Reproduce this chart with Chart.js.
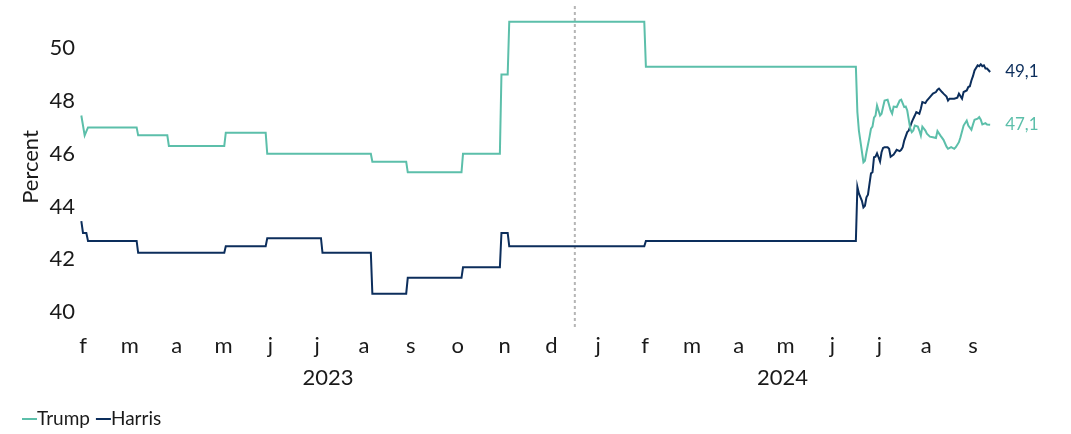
<!DOCTYPE html>
<html>
<head>
<meta charset="utf-8">
<script src="https://cdn.jsdelivr.net/npm/chart.js@4/dist/chart.umd.min.js"></script>
<style>
  body { margin: 0; background: #fff; }
  #wrap { width: 1071px; height: 434px; position: relative; }
</style>
</head>
<body>
<div id="wrap"><canvas id="chart"></canvas></div>
<script>
// Maanedsetiketter (feb 2023 - sep 2024)
const monthLabels = ['f', 'm', 'a', 'm', 'j', 'j', 'a', 's', 'o', 'n', 'd',
  'j', 'f', 'm', 'a', 'm', 'j', 'j', 'a', 's'];
const yearLabels = ['2023', '2024'];
const yTicks = [40, 42, 44, 46, 48, 50];

const trumpDates = [
  '2023-02-14', '2023-02-16', '2023-02-18', '2023-03-21', '2023-03-22', '2023-04-10', '2023-04-11',
  '2023-05-17', '2023-05-18', '2023-06-13', '2023-06-14', '2023-08-21', '2023-08-22', '2023-09-13',
  '2023-09-14', '2023-10-19', '2023-10-20', '2023-11-13', '2023-11-14', '2023-11-18', '2023-11-19',
  '2024-02-15', '2024-02-16', '2024-07-01',
  '2024-07-02', '2024-07-03', '2024-07-06', '2024-07-07', '2024-07-08', '2024-07-10', '2024-07-11',
  '2024-07-12', '2024-07-13', '2024-07-14', '2024-07-15', '2024-07-17', '2024-07-18', '2024-07-19',
  '2024-07-20', '2024-07-22', '2024-07-24', '2024-07-25', '2024-07-26', '2024-07-28', '2024-07-30',
  '2024-07-31', '2024-08-02', '2024-08-03', '2024-08-04', '2024-08-06', '2024-08-07', '2024-08-08',
  '2024-08-09', '2024-08-11', '2024-08-12', '2024-08-13', '2024-08-14', '2024-08-16', '2024-08-17',
  '2024-08-19', '2024-08-21', '2024-08-23', '2024-08-24', '2024-08-26', '2024-08-28', '2024-08-30',
  '2024-08-31', '2024-09-02', '2024-09-04', '2024-09-05', '2024-09-07', '2024-09-08', '2024-09-10',
  '2024-09-12', '2024-09-13', '2024-09-15', '2024-09-16', '2024-09-17', '2024-09-19', '2024-09-20',
  '2024-09-21', '2024-09-22', '2024-09-24', '2024-09-25', '2024-09-27'
];
const trumpValues = [
  47.45, 46.7, 47.0, 47.0, 46.7, 46.7, 46.3,
  46.3, 46.8, 46.8, 46.0, 46.0, 45.7, 45.7,
  45.3, 45.3, 46.0, 46.0, 49.0, 49.0, 51.0,
  51.0, 49.3, 49.3,
  47.58, 46.88, 45.68, 45.74, 46.06, 46.63, 46.95,
  47.03, 47.37, 47.45, 47.83, 47.45, 47.52, 47.77,
  48.02, 48.05, 47.64, 47.52, 47.79, 47.77, 48.02,
  48.05, 47.77, 47.79, 47.64, 46.95, 46.82, 46.88,
  47.07, 47.03, 46.88, 46.69, 47.03, 46.88, 46.76,
  46.65, 46.63, 46.60, 46.86, 46.69, 46.53, 46.27,
  46.19, 46.25, 46.19, 46.25, 46.44, 46.63, 47.07,
  47.26, 47.07, 46.91, 47.11, 47.29, 47.33, 47.39,
  47.29, 47.11, 47.16, 47.11, 47.1
];

const harrisDates = [
  '2023-02-14', '2023-02-15', '2023-02-17', '2023-02-18', '2023-03-21', '2023-03-22', '2023-05-17',
  '2023-05-18', '2023-06-13', '2023-06-14', '2023-07-19', '2023-07-20', '2023-08-21', '2023-08-22',
  '2023-09-13', '2023-09-14', '2023-10-19', '2023-10-20', '2023-11-13', '2023-11-14', '2023-11-18',
  '2023-11-19', '2024-02-15', '2024-02-16', '2024-07-01',
  '2024-07-02', '2024-07-03', '2024-07-05', '2024-07-06', '2024-07-07', '2024-07-08', '2024-07-09',
  '2024-07-11', '2024-07-12', '2024-07-13', '2024-07-14', '2024-07-15', '2024-07-16', '2024-07-17',
  '2024-07-18', '2024-07-19', '2024-07-20', '2024-07-22', '2024-07-23', '2024-07-24', '2024-07-26',
  '2024-07-27', '2024-07-28', '2024-07-30', '2024-07-31', '2024-08-01', '2024-08-02', '2024-08-04',
  '2024-08-05', '2024-08-07', '2024-08-08', '2024-08-09', '2024-08-10', '2024-08-12', '2024-08-13',
  '2024-08-14', '2024-08-16', '2024-08-17', '2024-08-19', '2024-08-21', '2024-08-23', '2024-08-24',
  '2024-08-25', '2024-08-27', '2024-08-28', '2024-08-30', '2024-08-31', '2024-09-01', '2024-09-02',
  '2024-09-04', '2024-09-06', '2024-09-07', '2024-09-09', '2024-09-10', '2024-09-12', '2024-09-13',
  '2024-09-14', '2024-09-15', '2024-09-16', '2024-09-17', '2024-09-19', '2024-09-20', '2024-09-21',
  '2024-09-22', '2024-09-23', '2024-09-24', '2024-09-25', '2024-09-27'
];
const harrisValues = [
  43.45, 43.0, 43.0, 42.7, 42.7, 42.25, 42.25,
  42.5, 42.5, 42.8, 42.8, 42.25, 42.25, 40.7,
  40.7, 41.3, 41.3, 41.7, 41.7, 43.0, 43.0,
  42.5, 42.5, 42.7, 42.7,
  44.75, 44.50, 44.22, 43.97, 44.03, 44.35, 44.45,
  45.26, 45.30, 45.87, 45.89, 46.02, 45.87, 45.71,
  46.06, 46.22, 46.25, 46.25, 46.19, 45.89, 45.97,
  46.06, 46.15, 46.10, 46.15, 46.25, 46.50, 46.82,
  46.88, 47.20, 47.33, 47.45, 47.58, 47.52, 47.71,
  47.96, 47.92, 48.02, 48.15, 48.28, 48.34, 48.43,
  48.47, 48.34, 48.28, 48.17, 48.02, 48.09, 48.09,
  48.09, 48.13, 48.28, 48.09, 48.34, 48.40, 48.53,
  48.56, 48.78, 48.94, 49.16, 49.35, 49.32, 49.39,
  49.32, 49.35, 49.23, 49.23, 49.1
];

const trumpColor = '#5cbfaa';
const harrisColor = '#0c2e5c';
const textColor = '#1a1a1a';
const fontFamily = 'Lato, "Open Sans", sans-serif';

// dato -> maaneder siden 1. jan 2023
function monthPos(s) {
  const [y, m, d] = s.split('-').map(Number);
  const days = new Date(y, m, 0).getDate();
  return (y - 2023) * 12 + (m - 1) + (d - 1) / days;
}

function toPoints(dates, values) {
  return dates.map((d, i) => ({ x: monthPos(d), y: values[i] }));
}

// stiplet linje ved aarsskiftet, aarstal under aksen, verdier ved linjeslutt og legende
const extras = {
  id: 'extras',
  beforeDatasetsDraw(chart) {
    const { ctx, chartArea, scales } = chart;
    const x = scales.x.getPixelForValue(12);
    ctx.save();
    ctx.strokeStyle = '#b5b5b5';
    ctx.lineWidth = 2;
    ctx.setLineDash([3, 3]);
    ctx.beginPath();
    ctx.moveTo(x, chartArea.top);
    ctx.lineTo(x, chartArea.bottom);
    ctx.stroke();
    ctx.restore();
  },
  afterDraw(chart) {
    const { ctx, scales } = chart;
    ctx.save();
    ctx.textBaseline = 'middle';

    // aarstall midt under den delen av aaret som har data
    const first = monthPos(trumpDates[0]);
    const last = monthPos(trumpDates[trumpDates.length - 1]);
    ctx.font = '22px ' + fontFamily;
    ctx.fillStyle = textColor;
    ctx.textAlign = 'center';
    yearLabels.forEach(yr => {
      const start = (Number(yr) - 2023) * 12;
      const lo = Math.max(first, start), hi = Math.min(last, start + 12);
      ctx.fillText(yr, scales.x.getPixelForValue((lo + hi) / 2), 378);
    });

    // siste verdi
    ctx.textAlign = 'left';
    ctx.font = '17px ' + fontFamily;
    chart.data.datasets.forEach(ds => {
      const pt = ds.data[ds.data.length - 1];
      ctx.fillStyle = ds.borderColor;
      ctx.fillText(pt.y.toFixed(1).replace('.', ','),
        scales.x.getPixelForValue(pt.x) + 15, scales.y.getPixelForValue(pt.y));
    });

    // legende
    ctx.font = '19px ' + fontFamily;
    let lx = 22;
    const ly = 419;
    chart.data.datasets.forEach(ds => {
      ctx.strokeStyle = ds.borderColor;
      ctx.lineWidth = 2;
      ctx.beginPath();
      ctx.moveTo(lx, ly);
      ctx.lineTo(lx + 15, ly);
      ctx.stroke();
      ctx.fillStyle = textColor;
      ctx.fillText(ds.label, lx + 15, ly);
      lx += 15 + ctx.measureText(ds.label).width + 6;
    });
    ctx.restore();
  }
};

new Chart(document.getElementById('chart'), {
  type: 'line',
  data: {
    datasets: [
      { label: 'Trump', data: toPoints(trumpDates, trumpValues), borderColor: trumpColor },
      { label: 'Harris', data: toPoints(harrisDates, harrisValues), borderColor: harrisColor }
    ]
  },
  options: {
    responsive: true,
    maintainAspectRatio: false,
    animation: false,
    layout: { padding: { top: 6, right: 71, left: 0, bottom: 0 } },
    elements: {
      point: { radius: 0 },
      line: { borderWidth: 2, tension: 0 }
    },
    plugins: {
      legend: { display: false },
      tooltip: { enabled: false }
    },
    scales: {
      x: {
        type: 'linear',
        min: 1.436,
        max: 21.077,
        grid: { display: false, drawTicks: false },
        border: { display: false },
        afterBuildTicks: scale => {
          scale.ticks = monthLabels.map((_, i) => ({ value: i + 1.5 }));
        },
        afterFit: scale => {
          scale.height = 106;
          scale.paddingLeft = 0;
          scale.paddingRight = 0;
        },
        ticks: {
          autoSkip: false,
          maxRotation: 0,
          padding: 5,
          color: textColor,
          font: { family: fontFamily, size: 22 },
          callback: (v, i) => monthLabels[i]
        }
      },
      y: {
        min: 39.4,
        max: 51.6,
        grid: { display: false, drawTicks: false },
        border: { display: false },
        afterBuildTicks: scale => {
          scale.ticks = yTicks.map(v => ({ value: v }));
        },
        afterFit: scale => {
          scale.width = 80;
          scale.paddingTop = 0;
          scale.paddingBottom = 0;
        },
        ticks: {
          padding: 5,
          color: textColor,
          font: { family: fontFamily, size: 22 }
        },
        title: {
          display: true,
          text: 'Percent',
          color: textColor,
          font: { family: fontFamily, size: 22 },
          padding: { top: 18, bottom: 0 }
        }
      }
    }
  },
  plugins: [extras]
});
</script>
</body>
</html>
